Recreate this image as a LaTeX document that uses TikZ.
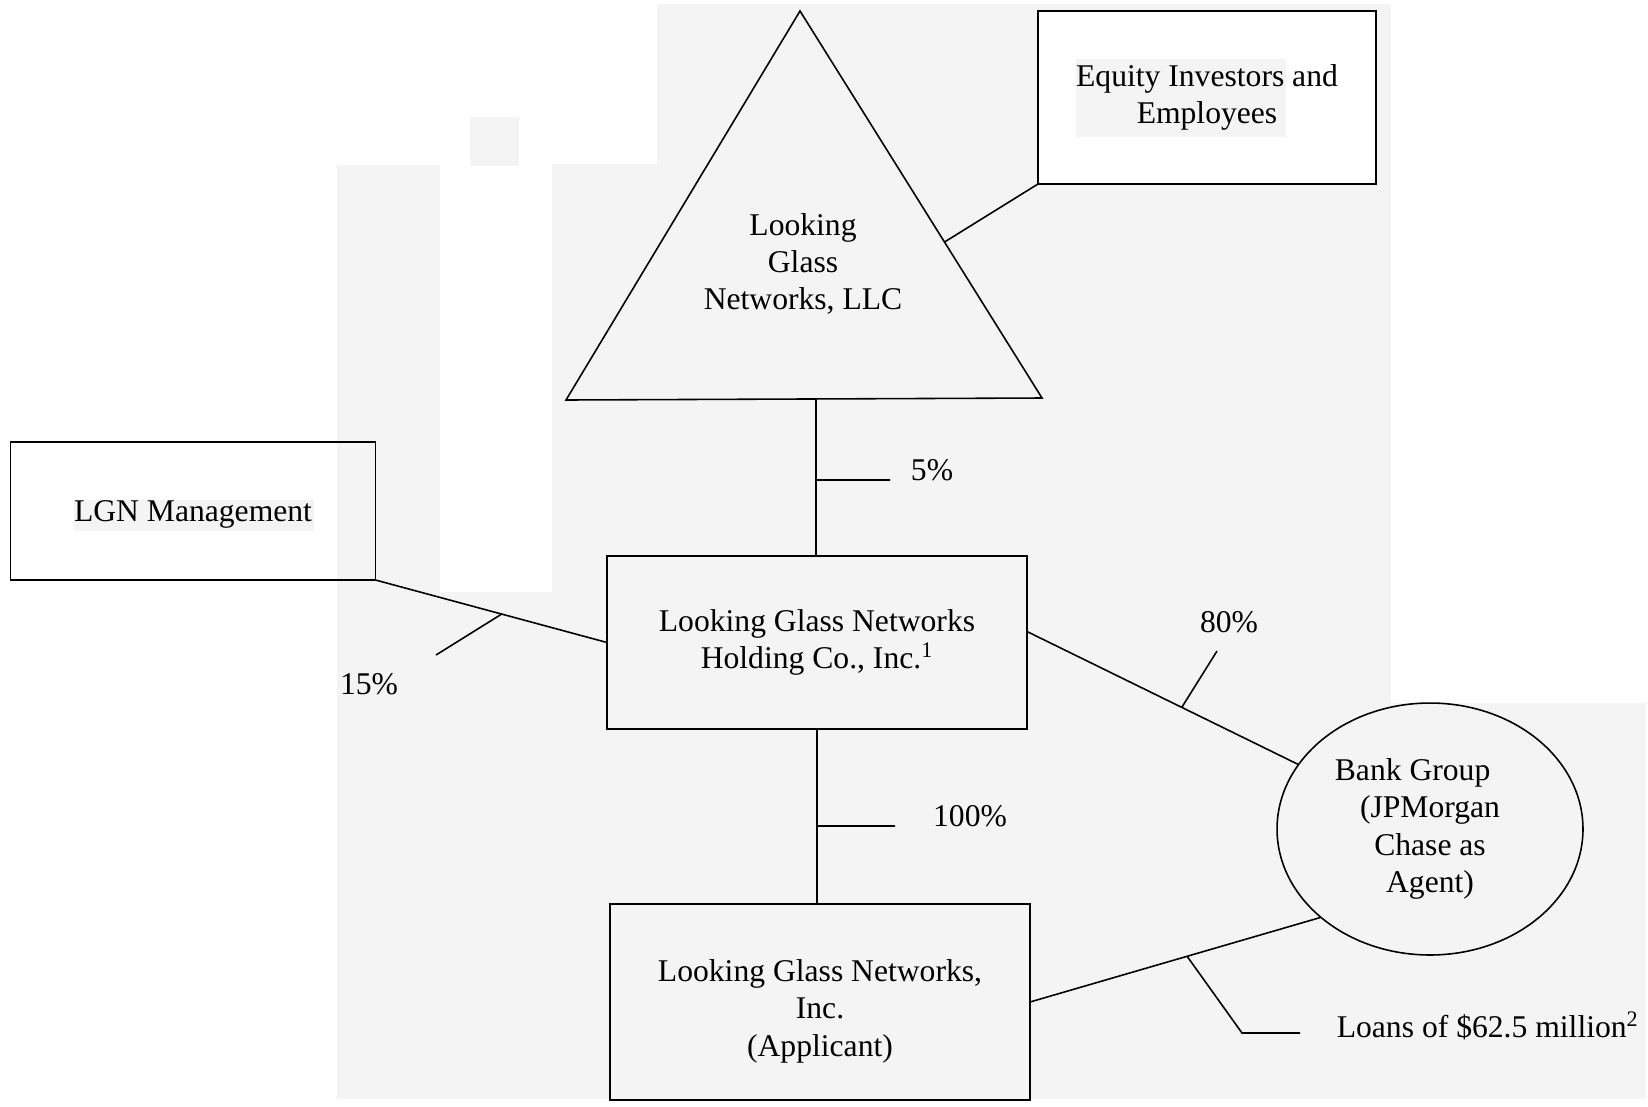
\documentclass[tikz,border=0pt]{standalone}
\usepackage{fontspec}
\setmainfont{Liberation Serif}
\usetikzlibrary{shapes.geometric}
\definecolor{scan}{HTML}{F4F4F4}

\begin{document}
\begin{tikzpicture}[x=0.02cm, y=-0.02cm, line width=0.9pt,
  every node/.style={font=\fontsize{18}{21.3}\selectfont, align=center},
  box/.style={draw, rectangle, inner sep=0pt, outer sep=0pt},
  pct/.style={inner sep=0pt}]
  \useasboundingbox (0,0) rectangle (1648,1106);
  \fill[scan] (657,4) rectangle (1391,1099);
  \fill[scan] (1391,703) rectangle (1646,1099);
  \fill[scan] (552,164) rectangle (657,1099);
  \fill[scan] (337,165) rectangle (440,1099);
  \fill[scan] (440,592) rectangle (552,1099);
  \fill[scan] (470,117) rectangle (519,166);
  \fill[scan] (74,500) rectangle (314,531);
  \fill[white] (1038,11) rectangle (1376,184);
  \fill[scan] (1076,59) rectangle (1286,137);

  \coordinate (apex) at (800,11);
  \coordinate (baseR) at (1042,398);
  \coordinate (baseL) at (566,400);
  \coordinate (llcfoot) at (816,399);
  \draw (apex) -- (baseR) coordinate[pos=0.597] (llcside) -- (baseL) -- cycle;
  \node (llc) at (803,264) {Looking\\Glass\\Networks, LLC};

  \node[box, minimum width=6.76cm, minimum height=3.46cm] (equity) at (1207,97.5) {Equity Investors and\\Employees};
  \node[box, text depth=0pt, minimum width=7.3cm, minimum height=2.76cm] (lgn) at (193,511) {LGN Management};
  \node[box, minimum width=8.4cm, minimum height=3.46cm] (holding) at (817,642.5) {Looking Glass Networks\\Holding Co., Inc.\textsuperscript{1}};
  \node[box, minimum width=8.4cm, minimum height=3.92cm] (applicant) at (820,1002) {\mbox{}\\[0.06cm]Looking Glass Networks,\\Inc.\\(Applicant)};
  \node[draw, ellipse, inner sep=0pt, outer sep=0pt, minimum width=6.12cm, minimum height=5.04cm] (bank) at (1430,829) {Bank Group\hspace*{1.1em}\\(JPMorgan\\Chase as\\Agent)};

  \node[pct] (p5) at (932,470) {5\%};
  \node[pct] (p15) at (369,684) {15\%};
  \node[pct] (p80) at (1229,622) {80\%};
  \node[pct] (p100) at (970,816) {100\%};
  \node[pct, anchor=west] (loans) at (1336,1026) {Loans of \$62.5 million\textsuperscript{2}};

  \coordinate (t5end) at (890,480);
  \coordinate (t15end) at (436,655);
  \coordinate (t80end) at (1217,651);
  \coordinate (t100end) at (895,826);
  \coordinate (tloanmid) at (1242,1033);
  \coordinate (tloanend) at (1300,1033);

  \draw (llcside) -- (equity.south west);
  \draw (llcfoot) -- (llcfoot |- holding.north) coordinate[pos=0.516] (t5);
  \draw (t5) -- (t5end);
  \draw (lgn.south east) -- (holding.west) coordinate[pos=0.545] (t15);
  \draw (t15) -- (t15end);
  \draw (holding.3) -- (bank) coordinate[pos=0.57] (t80);
  \draw (t80) -- (t80end);
  \draw (holding.south) -- (holding.south |- applicant.north) coordinate[pos=0.554] (t100);
  \draw (t100) -- (t100end);
  \draw (applicant.east) -- (bank.219) coordinate[pos=0.54] (tloan);
  \draw (tloan) -- (tloanmid) -- (tloanend);
\end{tikzpicture}
\end{document}
